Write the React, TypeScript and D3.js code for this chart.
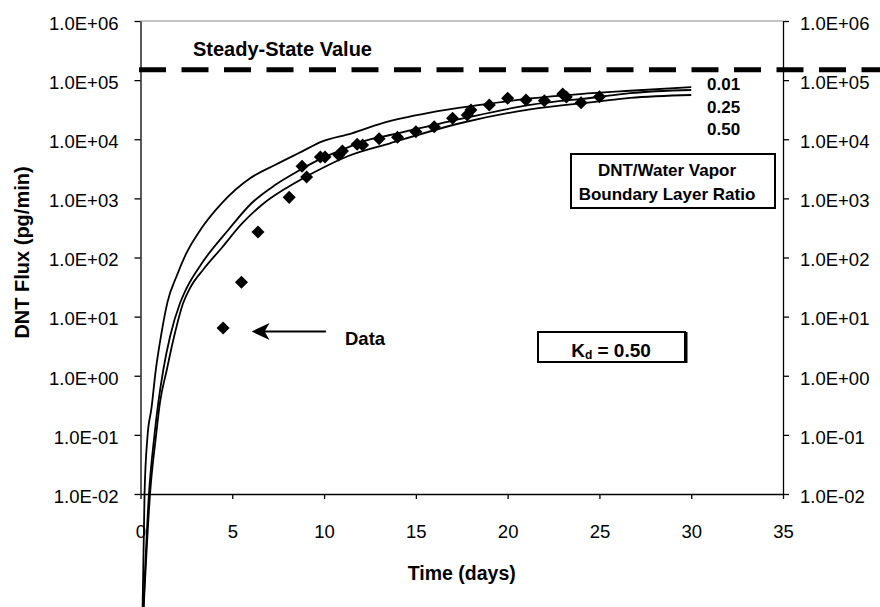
import React, { useEffect, useRef } from 'react';
import * as d3 from 'd3';

// measured diffusion data (days, pg/min)
const dataDays = [4.5, 5.5, 6.4, 8.1, 8.8, 9.05, 9.8, 10.05, 10.8, 11.0, 11.8, 12.1, 13.0, 14.0, 15.0, 16.0, 17.0, 17.8, 18.0, 19.0, 20.0, 21.0, 22.0, 23.0, 23.2, 24.0, 25.0];
const dataFlux = [6.4, 38, 270, 1040, 3500, 2300, 5000, 5000, 5400, 6300, 8200, 8000, 10200, 10800, 13400, 16300, 22600, 25700, 31300, 37900, 49300, 46100, 44900, 58200, 52000, 41500, 52500];

// model curves, one per boundary layer ratio
const ratio001Days = [0.11, 0.22, 0.38, 0.6, 0.82, 1.14, 1.47, 1.97, 2.48, 3.33, 4.42, 5.97, 7.33, 8.78, 9.87, 11.51, 13.14, 15.77, 18.49, 21.22, 23.94, 26.67, 30.0];
const ratio001Flux = [1e-4, 0.01, 0.093, 0.285, 1.16, 5.2, 17.6, 48.6, 115, 315, 826, 2190, 3670, 6170, 9120, 12600, 18600, 28200, 38000, 49000, 58200, 66100, 75900];

const ratio025Days = [0.15, 0.46, 0.75, 0.97, 1.24, 1.61, 2.15, 2.46, 3.33, 4.78, 6.06, 7.33, 8.69, 9.69, 10.96, 12.41, 13.59, 17.58, 21.22, 24.85, 26.67, 30.0];
const ratio025Flux = [1e-4, 0.01, 0.093, 0.35, 1.25, 4.6, 16.8, 28.2, 79, 292, 835, 1680, 3020, 4470, 6610, 9770, 11800, 22600, 38000, 51300, 60300, 68100];

const ratio050Days = [0.16, 0.52, 0.84, 1.06, 1.43, 1.83, 2.32, 2.7, 3.4, 4.42, 5.51, 6.6, 8.6, 10.05, 11.32, 13.59, 17.58, 21.22, 24.85, 26.67, 30.0];
const ratio050Flux = [1e-4, 0.01, 0.093, 0.35, 1.25, 4.6, 16.8, 30.5, 61.5, 145, 369, 773, 1970, 3430, 5210, 8550, 19200, 32100, 43200, 49900, 56000];

const curveLabels = ['0.01', '0.25', '0.50'];
const xTicks = [0, 5, 10, 15, 20, 25, 30, 35];
const yMajorTicks = [1e-2, 1e-1, 1, 1e1, 1e2, 1e3, 1e4, 1e5, 1e6];
const steadyStateFlux = 1.5e5;

// "Data" arrow annotation, in chart units
const arrowFlux = 5.6;
const arrowFromDay = 10.1;
const arrowToDay = 6.05;

const App = () => {
  const svgRef = useRef<SVGSVGElement>(null);

  useEffect(() => {
    const width = 880;
    const height = 607;
    const left = 140.5;
    const right = 783;
    const top = 21;
    const bottom = 494;
    const font = "'Liberation Sans', Arial, Helvetica, sans-serif";

    const svg = d3.select(svgRef.current);
    svg.selectAll('*').remove();
    svg.attr('width', width).attr('height', height).style('font-family', font);

    const x = d3.scaleLinear().domain([0, 35]).range([left, right]);
    const y = d3.scaleLog().domain([1e-2, 1e6]).range([bottom, top]);

    const fmt = (v: number) => {
      const e = Math.round(Math.log10(v));
      return `1.0E${e < 0 ? '-' : '+'}${String(Math.abs(e)).padStart(2, '0')}`;
    };

    const minorTicks: number[] = [];
    for (let d = -2; d < 6; d++) {
      for (let k = 2; k <= 9; k++) minorTicks.push(k * Math.pow(10, d));
    }

    // plot area top border
    svg.append('line')
      .attr('x1', left).attr('x2', right)
      .attr('y1', top).attr('y2', top)
      .attr('stroke', '#8a8a8a').attr('stroke-width', 1);

    const styleAxis = (g: any, size: number) => {
      g.selectAll('path, line').attr('stroke', '#000').attr('stroke-width', 1.3);
      g.selectAll('text')
        .attr('fill', '#000')
        .style('font-family', font)
        .style('font-size', `${size}px`);
    };

    // left axis
    const gl = svg.append('g').attr('transform', `translate(${left},0)`);
    gl.call(d3.axisLeft(y).tickValues(minorTicks).tickSize(3).tickSizeOuter(0).tickFormat(() => ''));
    gl.call(d3.axisLeft(y).tickValues(yMajorTicks).tickSize(6).tickSizeOuter(0).tickPadding(16).tickFormat(fmt as any));
    gl.selectAll('text').attr('dy', '0.45em');
    styleAxis(gl, 18.5);

    // right axis
    const gr = svg.append('g').attr('transform', `translate(${right},0)`);
    gr.call(d3.axisRight(y).tickValues(minorTicks).tickSize(3).tickSizeOuter(0).tickFormat(() => ''));
    gr.call(d3.axisRight(y).tickValues(yMajorTicks).tickSize(6).tickSizeOuter(0).tickPadding(11).tickFormat(fmt as any));
    gr.selectAll('text').attr('dy', '0.45em');
    styleAxis(gr, 18.5);

    // bottom axis
    const gb = svg.append('g').attr('transform', `translate(0,${bottom})`);
    gb.call(d3.axisBottom(x).tickValues(xTicks).tickSize(5).tickSizeOuter(0).tickPadding(26).tickFormat(d3.format('d') as any));
    styleAxis(gb, 18.5);

    // steady-state line
    svg.append('line')
      .attr('x1', left - 1.5).attr('x2', width)
      .attr('y1', y(steadyStateFlux)).attr('y2', y(steadyStateFlux))
      .attr('stroke', '#000').attr('stroke-width', 5)
      .attr('stroke-dasharray', '27 15.5');

    svg.append('text')
      .attr('x', 193).attr('y', 56)
      .style('font-size', '20px').style('font-weight', 'bold')
      .text('Steady-State Value');

    // model curves
    const line = d3.line<[number, number]>()
      .x(d => x(d[0]))
      .y(d => y(d[1]))
      .curve(d3.curveMonotoneX);

    const curves = [
      d3.zip(ratio001Days, ratio001Flux),
      d3.zip(ratio025Days, ratio025Flux),
      d3.zip(ratio050Days, ratio050Flux),
    ] as [number, number][][];

    svg.selectAll('path.curve')
      .data(curves)
      .enter()
      .append('path')
      .attr('class', 'curve')
      .attr('d', d => line(d))
      .attr('fill', 'none')
      .attr('stroke', '#000')
      .attr('stroke-width', 1.8);

    // data points
    svg.selectAll('path.pt')
      .data(d3.zip(dataDays, dataFlux))
      .enter()
      .append('path')
      .attr('class', 'pt')
      .attr('d', d3.symbol().type(d3.symbolSquare).size(85)() as string)
      .attr('transform', d => `translate(${x(d[0])},${y(d[1])}) rotate(45)`)
      .attr('fill', '#000');

    // curve labels
    svg.selectAll('text.clab')
      .data(curveLabels)
      .enter()
      .append('text')
      .attr('class', 'clab')
      .attr('x', 707)
      .attr('y', (d, i) => 90 + i * 22.7)
      .style('font-size', '17px').style('font-weight', 'bold')
      .text(d => d);

    // ratio legend box
    svg.append('rect')
      .attr('x', 571).attr('y', 154).attr('width', 204).attr('height', 54)
      .attr('fill', '#fff').attr('stroke', '#000').attr('stroke-width', 2);
    svg.append('text')
      .attr('x', 667).attr('y', 176).attr('text-anchor', 'middle')
      .style('font-size', '17px').style('font-weight', 'bold')
      .text('DNT/Water Vapor');
    svg.append('text')
      .attr('x', 667).attr('y', 200).attr('text-anchor', 'middle')
      .style('font-size', '17px').style('font-weight', 'bold')
      .text('Boundary Layer Ratio');

    // Kd box
    svg.append('rect')
      .attr('x', 538).attr('y', 332).attr('width', 147).attr('height', 30)
      .attr('fill', '#fff').attr('stroke', '#000').attr('stroke-width', 2);
    svg.append('line')
      .attr('x1', 686.5).attr('x2', 686.5).attr('y1', 332).attr('y2', 363)
      .attr('stroke', '#000').attr('stroke-width', 2);
    const kd = svg.append('text')
      .attr('x', 611).attr('y', 357).attr('text-anchor', 'middle')
      .style('font-size', '19px').style('font-weight', 'bold');
    kd.append('tspan').text('K');
    kd.append('tspan').attr('dy', 2).style('font-size', '12px').text('d');
    kd.append('tspan').attr('dy', -2).text(' = 0.50');

    // Data arrow
    const ay = y(arrowFlux);
    const tipX = x(arrowToDay);
    svg.append('line')
      .attr('x1', x(arrowFromDay)).attr('x2', tipX + 12)
      .attr('y1', ay).attr('y2', ay)
      .attr('stroke', '#000').attr('stroke-width', 2);
    svg.append('path')
      .attr('d', `M${tipX},${ay} L${tipX + 18},${ay - 8.5} L${tipX + 13},${ay} L${tipX + 18},${ay + 8.5} Z`)
      .attr('fill', '#000');
    svg.append('text')
      .attr('x', 345).attr('y', 345)
      .style('font-size', '18.5px').style('font-weight', 'bold')
      .text('Data');

    // axis titles
    svg.append('text')
      .attr('x', (left + right) / 2).attr('y', 580).attr('text-anchor', 'middle')
      .style('font-size', '19.5px').style('font-weight', 'bold')
      .text('Time (days)');
    svg.append('text')
      .attr('transform', `translate(28.5,${(top + bottom) / 2 - 5}) rotate(-90)`)
      .attr('text-anchor', 'middle')
      .style('font-size', '20px').style('font-weight', 'bold')
      .text('DNT Flux (pg/min)');
  }, []);

  return (
    <svg
      ref={svgRef}
      style={{ position: 'absolute', left: 0, top: 0, background: '#fff', display: 'block' }}
    ></svg>
  );
};

export default App;
